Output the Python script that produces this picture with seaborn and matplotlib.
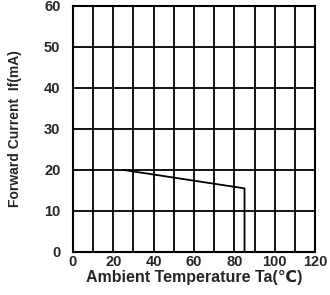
import matplotlib
matplotlib.use("Agg")
import matplotlib.pyplot as plt
import seaborn as sns
import pandas as pd

# derating curve
ambient_temp = [25, 85, 85]
forward_current = [20, 15.5, 0]
x_ticks = [0, 20, 40, 60, 80, 100, 120]
y_ticks = [0, 10, 20, 30, 40, 50, 60]

sns.set_style("white")
plt.rcParams['font.family'] = ['Liberation Sans', 'DejaVu Sans']

df = pd.DataFrame({'Ta': ambient_temp, 'If': forward_current})

fig = plt.figure(figsize=(3.3, 2.95), dpi=100)
ax = fig.add_axes([0.221, 0.146, 0.734, 0.834])

sns.lineplot(x='Ta', y='If', data=df, sort=False, estimator=None,
             color='black', linewidth=1.3, ax=ax)

ax.set_xlim(0, 120)
ax.set_ylim(0, 60)
ax.set_xticks(x_ticks)
ax.set_xticks(range(10, 120, 20), minor=True)
ax.set_yticks(y_ticks)
ax.grid(True, which='both', color='black', linewidth=1.3)
ax.tick_params(which='both', length=0, labelsize=10.5)
ax.tick_params(axis='y', pad=9)
ax.tick_params(axis='x', pad=2)
for lab in ax.get_xticklabels() + ax.get_yticklabels():
    lab.set_fontweight('bold')
for s in ax.spines.values():
    s.set_color('black')
    s.set_linewidth(1.5)

ax.set_xlabel('Ambient Temperature Ta(\u2103)', fontsize=11.5, fontweight='bold', labelpad=1)
ax.set_ylabel('Forward Current  If(mA)', fontsize=10, fontweight='bold', labelpad=16)

fig.savefig('out.png', dpi=100)
